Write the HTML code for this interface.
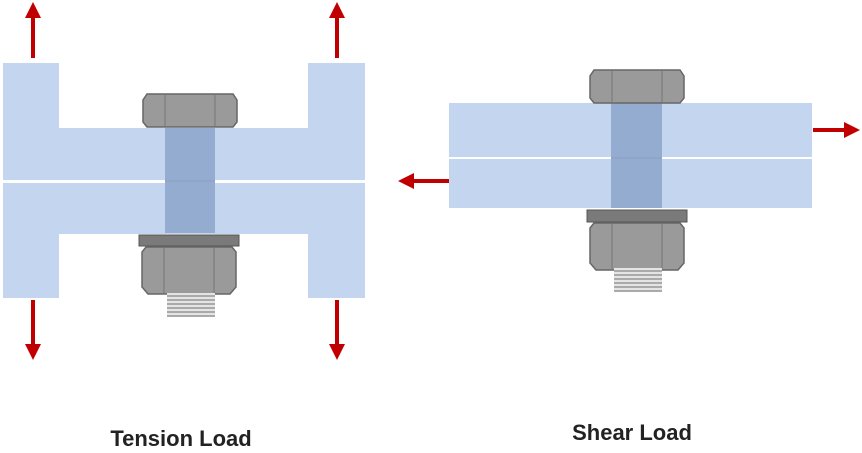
<!DOCTYPE html>
<html><head><style>
body{margin:0;background:#fff;}
svg{display:block}
text{font-family:"Liberation Sans",sans-serif;font-weight:bold;font-size:22px;fill:#222}
</style></head><body>
<svg width="862" height="453" viewBox="0 0 862 453" xmlns="http://www.w3.org/2000/svg">
<defs>
<g id="head">
<path d="M4,0 H90 L94,6 V28 L90,33 H4 L0,28 V6 Z" fill="#9a9a9a" stroke="#666" stroke-width="1.5"/>
<line x1="22" y1="1" x2="22" y2="32" stroke="#777"/><line x1="72" y1="1" x2="72" y2="32" stroke="#777"/>
</g>
<g id="nut">
<path d="M4,0 H90 L94,5 V40 L88,47 H6 L0,40 V5 Z" fill="#9a9a9a" stroke="#666" stroke-width="1.5"/>
<line x1="22" y1="1" x2="22" y2="46" stroke="#777"/><line x1="72" y1="1" x2="72" y2="46" stroke="#777"/>
</g>
<g id="thr">
<rect x="0" y="0" width="48" height="24" fill="#e4e4e4"/>
<path d="M0,3H48M0,7H48M0,11H48M0,15H48M0,19H48M0,23H48" stroke="#888" stroke-width="1.2"/>
</g>
<marker id="ah" markerWidth="4" markerHeight="4" refX="1" refY="2" orient="auto"><path d="M0,0 L4,2 L0,4 Z" fill="#c00000"/></marker>
</defs>
<!-- Tension -->
<g fill="#c3d5ef">
<rect x="3" y="63" width="56" height="235"/>
<rect x="308" y="63" width="57" height="235"/>
<rect x="3" y="128" width="362" height="52"/>
<rect x="3" y="183" width="362" height="51"/>
</g>
<rect x="3" y="180" width="362" height="3" fill="#fff"/>
<rect x="165" y="128" width="50" height="105" fill="#94acd0"/>
<line x1="165" y1="181" x2="215" y2="181" stroke="#8aa0c0"/>
<use href="#head" x="143" y="94"/>
<rect x="139" y="235" width="100" height="11" fill="#7a7a7a" stroke="#555"/>
<use href="#nut" x="142" y="247"/>
<use href="#thr" x="167" y="293"/>
<g stroke="#c00000" stroke-width="4" marker-end="url(#ah)">
<line x1="33" y1="58" x2="33" y2="14"/>
<line x1="337" y1="58" x2="337" y2="14"/>
<line x1="33" y1="300" x2="33" y2="348"/>
<line x1="337" y1="300" x2="337" y2="348"/>
<line x1="813" y1="130" x2="848" y2="130"/>
<line x1="450" y1="181" x2="410" y2="181"/>
</g>
<!-- Shear -->
<rect x="449" y="103" width="363" height="54" fill="#c3d5ef"/>
<rect x="449" y="159" width="363" height="49" fill="#c3d5ef"/>
<rect x="611" y="103" width="51" height="105" fill="#94acd0"/>
<line x1="611" y1="158" x2="662" y2="158" stroke="#8aa0c0"/>
<use href="#head" x="590" y="70"/>
<rect x="587" y="210" width="100" height="12" fill="#7a7a7a" stroke="#555"/>
<use href="#nut" x="590" y="223"/>
<use href="#thr" x="614" y="268"/>
<text x="181" y="446" text-anchor="middle">Tension Load</text>
<text x="632" y="440" text-anchor="middle">Shear Load</text>
</svg>
</body></html>
